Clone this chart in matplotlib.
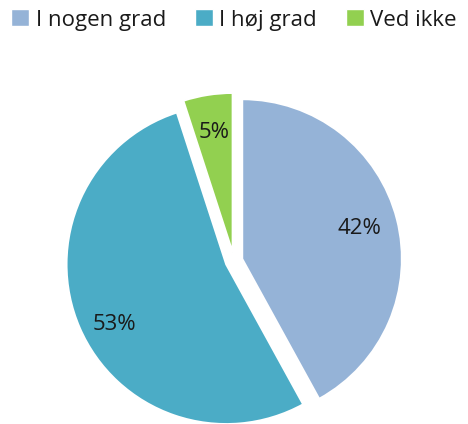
import matplotlib
matplotlib.use("Agg")
import matplotlib.pyplot as plt
from matplotlib.patches import Patch

labels = ["I nogen grad", "I høj grad", "Ved ikke"]
values = [42, 53, 5]
colors = ["#95B3D7", "#4BACC6", "#92D050"]

plt.rcParams['font.family'] = ['Open Sans', 'DejaVu Sans']

fig = plt.figure(figsize=(4.68, 4.24), dpi=100)
# radius 1 = 160 px, pie centre at (234, 163) px from bottom-left
ax = fig.add_axes([42/468, -29/424, 384/468, 384/424])
ax.set_xlim(-1.2, 1.2)
ax.set_ylim(-1.2, 1.2)
ax.axis("off")

wedges, texts, autotexts = ax.pie(
    values, colors=colors, startangle=90, counterclock=False,
    explode=[0.055, 0.055, 0.055],
    autopct=lambda p: "%d%%" % round(p), pctdistance=0.76,
    wedgeprops=dict(edgecolor="white", linewidth=1.5),
    textprops=dict(fontsize=16, color="#1a1a1a"), radius=1.04)
for w in wedges:
    w.set_clip_on(False)

# label of the big slice sits a bit lower in the original
x, y = autotexts[1].get_position()
autotexts[1].set_position((x, y - 0.08))

handles = [Patch(facecolor=c, edgecolor="white", label=l) for c, l in zip(colors, labels)]
fig.legend(handles=handles, loc="center", bbox_to_anchor=(0.5, 1 - 20/424),
           ncol=3, frameon=False, fontsize=16, handlelength=0.8, handleheight=0.8,
           handletextpad=0.3, columnspacing=1.3, labelcolor="#1a1a1a")

fig.savefig("out.png", dpi=100)
